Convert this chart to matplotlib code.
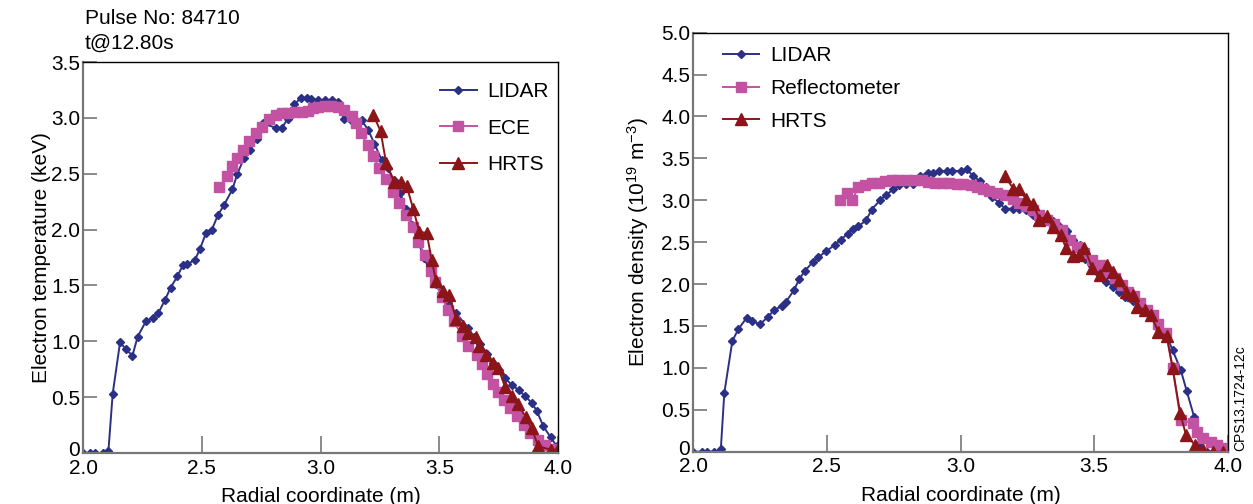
import numpy as np
import matplotlib
matplotlib.use("Agg")
import matplotlib.pyplot as plt
from matplotlib.ticker import FuncFormatter
from matplotlib.transforms import ScaledTranslation

plt.rcParams['font.family'] = ['Liberation Sans', 'DejaVu Sans']
plt.rcParams['mathtext.fontset'] = 'custom'
plt.rcParams['mathtext.rm'] = 'Liberation Sans'
plt.rcParams['mathtext.it'] = 'Liberation Sans:italic'
plt.rcParams['mathtext.default'] = 'regular'

# ---- left panel: electron temperature ----
lidar_te_r = [2.000, 2.029, 2.051, 2.085, 2.107, 2.125, 2.156, 2.181, 2.208, 2.230,
              2.265, 2.293, 2.317, 2.345, 2.369, 2.397, 2.420, 2.439, 2.472, 2.493,
              2.518, 2.543, 2.568, 2.594, 2.629, 2.650, 2.678, 2.703, 2.731, 2.757,
              2.813, 2.837, 2.862, 2.890, 2.918, 2.942, 2.960, 2.991, 3.019, 3.047,
              3.075, 3.099, 3.131, 3.173, 3.201, 3.227, 3.258, 3.285, 3.309, 3.335,
              3.360, 3.385, 3.411, 3.436, 3.461, 3.486, 3.512, 3.538, 3.571, 3.622,
              3.646, 3.672, 3.701, 3.726, 3.752, 3.777, 3.805, 3.837, 3.861, 3.889,
              3.910, 3.938, 3.969, 3.995]
lidar_te = [0.0, 0.0, 0.0, 0.0, 0.02, 0.53, 0.99, 0.93, 0.87, 1.04,
            1.18, 1.21, 1.25, 1.37, 1.48, 1.58, 1.68, 1.69, 1.73, 1.83,
            1.97, 2.00, 2.13, 2.22, 2.36, 2.50, 2.64, 2.71, 2.81, 2.95,
            2.91, 2.91, 2.99, 3.12, 3.18, 3.18, 3.17, 3.16, 3.16, 3.16,
            3.14, 2.99, 2.97, 2.98, 2.89, 2.77, 2.62, 2.55, 2.44, 2.33,
            2.18, 2.04, 1.89, 1.75, 1.62, 1.51, 1.42, 1.34, 1.25, 1.12,
            1.04, 0.98, 0.89, 0.81, 0.74, 0.67, 0.61, 0.56, 0.51, 0.45,
            0.38, 0.24, 0.14, 0.06]

ece_r = [2.574, 2.608, 2.626, 2.650, 2.675, 2.700, 2.728, 2.752, 2.784, 2.813,
         2.837, 2.864, 2.893, 2.921, 2.949, 2.967, 2.991, 3.019, 3.044, 3.072,
         3.099, 3.131, 3.149, 3.169, 3.199, 3.220, 3.248, 3.275, 3.307, 3.332,
         3.360, 3.388, 3.412, 3.440, 3.464, 3.482, 3.510, 3.538, 3.562, 3.595,
         3.622, 3.658, 3.679, 3.700, 3.725, 3.749, 3.773, 3.798, 3.826, 3.857,
         3.882, 3.917, 3.945, 3.969, 3.995]
ece_te = [2.38, 2.48, 2.57, 2.64, 2.71, 2.79, 2.86, 2.92, 2.99, 3.03,
          3.04, 3.04, 3.05, 3.05, 3.06, 3.09, 3.10, 3.11, 3.11, 3.10,
          3.07, 3.02, 2.95, 2.86, 2.76, 2.66, 2.55, 2.45, 2.34, 2.24,
          2.13, 2.02, 1.89, 1.77, 1.63, 1.53, 1.40, 1.28, 1.18, 1.05,
          0.96, 0.88, 0.80, 0.71, 0.62, 0.55, 0.47, 0.40, 0.33, 0.25,
          0.18, 0.12, 0.07, 0.04, 0.03]

hrts_te_r = [3.222, 3.253, 3.276, 3.309, 3.338, 3.363, 3.391, 3.416, 3.447, 3.468,
             3.486, 3.515, 3.542, 3.571, 3.599, 3.622, 3.655, 3.669, 3.697, 3.728,
             3.749, 3.777, 3.805, 3.833, 3.864, 3.889, 3.917, 3.969, 3.995]
hrts_te = [3.03, 2.88, 2.60, 2.43, 2.43, 2.39, 2.18, 1.98, 1.97, 1.73,
           1.54, 1.45, 1.41, 1.20, 1.14, 1.07, 1.04, 0.96, 0.88, 0.81,
           0.76, 0.59, 0.51, 0.44, 0.32, 0.22, 0.06, 0.03, 0.02]

# ---- right panel: electron density ----
lidar_ne_r = [2.001, 2.033, 2.053, 2.080, 2.104, 2.117, 2.147, 2.169, 2.201, 2.219,
              2.250, 2.281, 2.303, 2.332, 2.348, 2.378, 2.397, 2.419, 2.447, 2.468,
              2.497, 2.531, 2.552, 2.578, 2.597, 2.618, 2.647, 2.668, 2.699, 2.720,
              2.749, 2.771, 2.797, 2.824, 2.849, 2.877, 2.898, 2.920, 2.948, 2.969,
              3.001, 3.025, 3.046, 3.073, 3.095, 3.117, 3.145, 3.166, 3.197, 3.220,
              3.245, 3.272, 3.295, 3.322, 3.347, 3.369, 3.397, 3.422, 3.447, 3.465,
              3.490, 3.518, 3.544, 3.571, 3.594, 3.615, 3.646, 3.671, 3.693, 3.715,
              3.743, 3.771, 3.793, 3.823, 3.846, 3.873, 3.893, 3.920]
lidar_ne = [0.0, 0.0, 0.0, 0.0, 0.03, 0.70, 1.32, 1.46, 1.60, 1.56,
            1.52, 1.61, 1.69, 1.74, 1.79, 1.93, 2.06, 2.16, 2.26, 2.32,
            2.39, 2.47, 2.53, 2.60, 2.66, 2.69, 2.76, 2.89, 3.00, 3.06,
            3.13, 3.18, 3.19, 3.19, 3.29, 3.33, 3.33, 3.35, 3.35, 3.35,
            3.35, 3.37, 3.29, 3.23, 3.16, 3.04, 2.97, 2.90, 2.90, 2.90,
            2.88, 2.82, 2.80, 2.79, 2.75, 2.69, 2.63, 2.53, 2.47, 2.30,
            2.22, 2.12, 2.03, 1.97, 1.90, 1.85, 1.80, 1.73, 1.69, 1.62,
            1.47, 1.38, 1.21, 0.98, 0.72, 0.42, 0.09, 0.0]

refl_r = [2.550, 2.575, 2.596, 2.618, 2.643, 2.668, 2.696, 2.718, 2.743, 2.767,
          2.799, 2.830, 2.855, 2.880, 2.905, 2.930, 2.958, 2.986, 3.010, 3.038,
          3.063, 3.085, 3.108, 3.135, 3.166, 3.195, 3.220, 3.245, 3.270, 3.295,
          3.322, 3.350, 3.378, 3.409, 3.434, 3.462, 3.490, 3.521, 3.550, 3.578,
          3.603, 3.627, 3.649, 3.671, 3.698, 3.719, 3.739, 3.768, 3.793, 3.823,
          3.870, 3.883, 3.908, 3.935, 3.960, 3.985]
refl_ne = [3.00, 3.09, 3.00, 3.16, 3.18, 3.21, 3.21, 3.23, 3.24, 3.24,
           3.24, 3.24, 3.24, 3.22, 3.21, 3.21, 3.21, 3.20, 3.20, 3.18,
           3.16, 3.13, 3.11, 3.09, 3.06, 3.01, 2.97, 2.93, 2.88, 2.82,
           2.77, 2.72, 2.65, 2.53, 2.44, 2.37, 2.29, 2.23, 2.14, 2.07,
           1.99, 1.91, 1.86, 1.77, 1.69, 1.63, 1.52, 1.42, 1.00, 0.38,
           0.34, 0.24, 0.16, 0.11, 0.08, 0.04]

hrts_ne_r = [3.166, 3.197, 3.220, 3.245, 3.272, 3.295, 3.322, 3.345, 3.375, 3.394,
             3.419, 3.444, 3.463, 3.493, 3.521, 3.547, 3.571, 3.594, 3.619, 3.644,
             3.661, 3.690, 3.711, 3.740, 3.771, 3.793, 3.821, 3.843, 3.877, 3.908,
             3.945, 3.982]
hrts_ne = [3.29, 3.14, 3.14, 3.01, 2.96, 2.77, 2.81, 2.68, 2.59, 2.43,
           2.34, 2.35, 2.43, 2.19, 2.11, 2.23, 2.14, 2.05, 1.90, 1.87,
           1.73, 1.69, 1.63, 1.43, 1.38, 1.00, 0.46, 0.20, 0.08, 0.02,
           0.0, 0.0]

c_lidar = '#2b3087'
c_pink = '#c452a3'
c_hrts = '#8b1518'
fs = 15


def ytick_fmt(v, pos):
    return '0' if abs(v) < 1e-9 else '%.1f' % v


def style_axes(ax):
    for side in ['left', 'bottom']:
        ax.spines[side].set_color('#777777')
        ax.spines[side].set_linewidth(1.6)
    for side in ['top', 'right']:
        ax.spines[side].set_color('black')
        ax.spines[side].set_linewidth(1.0)
    ax.tick_params(axis='y', direction='in', length=10, width=1.2, color='#777777',
                   labelsize=fs, pad=2)
    ax.tick_params(axis='x', direction='in', length=12, width=1.2, color='#777777',
                   labelsize=fs, pad=4)
    ax.set_xlim(2.0, 4.0)
    ax.set_xticks([2.0, 2.5, 3.0, 3.5, 4.0])
    ax.xaxis.set_major_formatter(FuncFormatter(lambda v, p: '%.1f' % v))
    ax.yaxis.set_major_formatter(FuncFormatter(ytick_fmt))


fig = plt.figure(figsize=(12.53, 5.04), dpi=100)
ax1 = fig.add_axes([83 / 1253, 1 - 453 / 504, 475 / 1253, 391 / 504])
ax2 = fig.add_axes([693 / 1253, 1 - 451.7 / 504, 535 / 1253, 419 / 504])

ax1.plot(lidar_te_r, lidar_te, '-', color=c_lidar, lw=1.4, marker='D', ms=4, label='LIDAR')
ax1.plot(ece_r, ece_te, '-', color=c_pink, lw=1.4, marker='s', ms=7, mec=c_pink, label='ECE')
ax1.plot(hrts_te_r, hrts_te, '-', color=c_hrts, lw=1.4, marker='^', ms=8, label='HRTS')
style_axes(ax1)
ax1.set_ylim(0, 3.5)
ax1.set_yticks(np.arange(0, 3.51, 0.5))
ax1.set_ylabel('Electron temperature (keV)', fontsize=fs, labelpad=0)
ax1.set_xlabel('Radial coordinate (m)', fontsize=fs, labelpad=7)
ax1.legend(loc='upper left', bbox_to_anchor=(0.752, 0.949), frameon=False, fontsize=fs,
           borderpad=0, borderaxespad=0, handlelength=1.75, handletextpad=0.5,
           labelspacing=0.85)

ax2.plot(lidar_ne_r, lidar_ne, '-', color=c_lidar, lw=1.4, marker='D', ms=4, label='LIDAR')
ax2.plot(refl_r, refl_ne, '-', color=c_pink, lw=1.4, marker='s', ms=7, mec=c_pink,
         label='Reflectometer')
ax2.plot(hrts_ne_r, hrts_ne, '-', color=c_hrts, lw=1.4, marker='^', ms=8, label='HRTS')
style_axes(ax2)
ax2.set_ylim(0, 5.0)
ax2.set_yticks(np.arange(0, 5.01, 0.5))
ax2.set_ylabel('Electron density (10$^{19}$ m$^{-3}$)', fontsize=fs, labelpad=7)
ax2.set_xlabel('Radial coordinate (m)', fontsize=fs, labelpad=7)
ax2.legend(loc='upper left', bbox_to_anchor=(0.056, 0.968), frameon=False, fontsize=fs,
           borderpad=0, borderaxespad=0, handlelength=1.75, handletextpad=0.5,
           labelspacing=0.66)

# lift the "0" labels a little so they sit clear of the "2.0" below them
for ax in (ax1, ax2):
    fig.canvas.draw()
    lbl = ax.get_yticklabels()[0]
    lbl.set_transform(lbl.get_transform() + ScaledTranslation(0, 3 / 72, fig.dpi_scale_trans))

fig.text(85 / 1253, 1 - 18 / 504, 'Pulse No: 84710', fontsize=fs, va='center', ha='left')
fig.text(85 / 1253, 1 - 43 / 504, 't@12.80s', fontsize=fs, va='center', ha='left')
fig.text(1240 / 1253, 1 - 398 / 504, 'CPS13.1724-12c', fontsize=10, rotation=90,
         va='center', ha='center')

fig.savefig('out.png', dpi=100)
